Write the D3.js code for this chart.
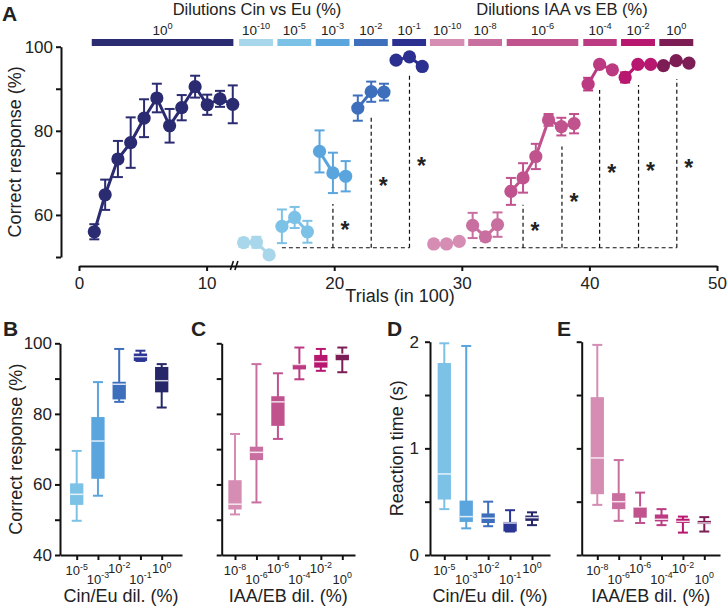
<!DOCTYPE html>
<html><head><meta charset="utf-8">
<script src="https://cdn.jsdelivr.net/npm/d3@7"></script>
<style>
body{margin:0;background:#fff}
svg{display:block}
text{font-family:"Liberation Sans",Arial,Helvetica,sans-serif;fill:#222}
</style>
</head><body>
<svg id="c" width="728" height="608"></svg>
<script>
// ---------------- DATA ----------------
// Panel A: learning curves (x = trials in 100, y = % correct, err = s.e.m.)
const seriesExp    = ["0","-10","-5","-3","-2","-1","-10","-8","-6","-4","-2","0"];
const seriesColors = ["#2a2b70","#a8d6ea","#7cc1e6","#5aa5de","#3d6fbd","#2b3090",
                      "#d68db3","#c96fa0","#c0538e","#bb3a82","#b8176f","#7c1d56"];
const seriesX = [
  [1.2,2.05,3.05,4.05,5.1,6.1,7.1,8.05,9.1,10.05,11.05,12.05],
  [12.9,13.9,14.9],
  [15.9,16.9,17.9],
  [18.85,19.9,20.9],
  [21.85,22.9,23.9],
  [24.85,25.9,26.9],
  [27.8,28.8,29.8],
  [30.85,31.85,32.8],
  [33.85,34.8,35.8,36.8,37.8,38.8],
  [39.9,40.8,41.8],
  [42.8,43.8,44.8],
  [45.8,46.8,47.8]
];
const seriesY = [
  [56,64.8,73.3,77.2,83,87.8,81.2,85.5,90.5,86.2,87.6,86.3],
  [53.4,53.5,50.5],
  [57.3,59.4,56.0],
  [75.1,70.0,69.2],
  [85.4,89.3,89.2],
  [96.8,97.6,95.3],
  [53.1,53.1,53.7],
  [57.5,54.8,57.7],
  [65.6,68.8,73.9,82.6,81.0,81.7],
  [91.1,95.8,94.5],
  [92.7,95.8,95.8],
  [95.5,96.7,96.1]
];
const seriesErr = [
  [1.8,3.6,4.3,6,4.5,3.4,4,3,2.6,2.4,1.9,4.5],
  [1,1.3,0.4],
  [4,2.5,2.6],
  [5,4.8,3.6],
  [3,2.4,2],
  [0.5,0.5,0.5],
  [0.8,0.5,0.5],
  [3,1,2.9],
  [3.2,3.5,3,1.4,2.1,2.3],
  [1.5,0.6,0.6],
  [1.2,0.5,0.5],
  [0.5,0.5,0.5]
];
// dilution bars on top (in trial units)
const barStart = [1.0,12.55,15.55,18.55,21.55,24.55,27.5,30.5,33.52,39.52,42.48,45.48];
const barEnd   = [12.1,15.2,18.2,21.2,24.2,27.2,30.2,33.15,39.13,42.14,45.14,48.14];
// significance brackets
const sigBase = 52.2;
const cinSigStart = 15.9, cinSigX = [19.9,22.9,25.9], cinSigTop = [62.6,83.8,93.3], cinStarY = [57.3,67.8,72.6];
const iaaSigStart = 30.85, iaaSigX = [34.8,37.85,40.8,43.85,46.85], iaaSigTop = [62.4,76.3,89.7,90.9,92.3], iaaStarY = [57.2,64.0,70.9,71.5,72.2];
const axisATicksY = [50,60,70,80,90,100], axisALabelsY = [60,80,100];
const axisATicksX = [0,10,20,30,40,50];

// Panels B-E: box plots [min, q1, median, q3, max]
const cinCats = ["-5","-3","-2","-1","0"];
const iaaCats = ["-8","-6","-6","-4","-2","0"];
const cinBoxColors = ["#7cc1e6","#5aa5de","#3d6fbd","#2b3593","#262768"];
const iaaBoxColors = ["#d68db3","#c96fa0","#c0538e","#bb3a82","#b8176f","#7c1d56"];
const boxB = [[49.7,54.2,57.2,60.3,69.5],[56.8,61.6,72.3,79.1,89.0],[83.4,84.1,88.4,89.1,98.4],[95.0,95.0,96.2,97.1,97.9],[81.8,86.1,89.4,93.3,94.1]];
const boxC = [[51.5,52.9,54.4,61.2,74.3],[54.9,66.9,69.1,70.7,94.1],[72.9,76.6,83.4,85.0,91.5],[89.8,92.6,94.0,94.1,98.8],[92.2,93.1,94.8,96.7,98.4],[91.8,95.2,96.9,97.0,98.8]];
const boxD = [[0.43,0.52,0.76,1.80,1.985],[0.25,0.31,0.36,0.51,1.96],[0.27,0.30,0.345,0.39,0.50],[0.22,0.22,0.30,0.31,0.42],[0.28,0.32,0.35,0.37,0.40]];
const boxE = [[0.47,0.57,0.91,1.48,1.97],[0.32,0.43,0.50,0.58,0.89],[0.30,0.35,0.45,0.45,0.585],[0.28,0.315,0.335,0.38,0.43],[0.21,0.30,0.315,0.34,0.36],[0.22,0.29,0.30,0.32,0.355]];
const pctTicks = [40,50,60,70,80,90,100], pctLabels = [40,60,80,100];
const rtTicks = [0,0.5,1,1.5,2], rtLabels = [0,1,2];

// ---------------- DRAW ----------------
const svg = d3.select("#c");
const FONT = '"Liberation Sans",Arial,sans-serif';

function expLabel(g, x, y, exp, size, anchor) {
  const t = g.append("text").attr("x", x).attr("y", y).attr("text-anchor", anchor || "middle")
    .attr("font-size", size);
  t.append("tspan").text("10");
  t.append("tspan").attr("dy", -size * 0.42).attr("font-size", size * 0.68).text(exp);
  return t;
}
function styleAxis(g) {
  g.selectAll("path.domain").attr("stroke", "#111").attr("stroke-width", 2);
  g.selectAll(".tick line").attr("stroke", "#111").attr("stroke-width", 2);
  g.selectAll(".tick text").attr("fill", "#222").attr("font-family", FONT);
}

// ===== Panel A =====
const xA = d3.scaleLinear([0, 50], [79, 717]);
const yA = d3.scaleLinear([50, 100], [257, 46.7]);
const gA = svg.append("g");

const ayA = gA.append("g").attr("transform", "translate(61,0)")
  .call(d3.axisLeft(yA).tickValues(axisATicksY).tickSize(5).tickSizeOuter(0).tickPadding(3)
    .tickFormat(d => axisALabelsY.includes(d) ? d : ""));
ayA.selectAll("text").attr("font-size", 17);
styleAxis(ayA);
const axA = gA.append("g").attr("transform", "translate(0,266)")
  .call(d3.axisBottom(xA).tickValues(axisATicksX).tickSize(5).tickSizeOuter(0).tickPadding(6));
axA.selectAll("text").attr("font-size", 17);
styleAxis(axA);
// axis break
const bx = xA(12.1);
[0, 4.5].forEach(o => gA.append("line").attr("x1", bx - 3 + o).attr("y1", 270).attr("x2", bx + o).attr("y2", 261)
  .attr("stroke", "#111").attr("stroke-width", 1.6));

gA.append("text").attr("x", 2).attr("y", 21).attr("font-size", 21).attr("font-weight", "bold").text("A");
gA.append("text").attr("transform", `translate(21,${(yA(50) + yA(100)) / 2}) rotate(-90)`)
  .attr("text-anchor", "middle").attr("font-size", 18).text("Correct response (%)");
gA.append("text").attr("x", 400).attr("y", 302).attr("text-anchor", "middle").attr("font-size", 18).text("Trials (in 100)");
gA.append("text").attr("x", 257).attr("y", 15).attr("text-anchor", "middle").attr("font-size", 16.5).text("Dilutions Cin vs Eu (%)");
gA.append("text").attr("x", 562).attr("y", 15).attr("text-anchor", "middle").attr("font-size", 16.5).text("Dilutions IAA vs EB (%)");

// top bars
barStart.forEach((s, i) => {
  gA.append("rect").attr("x", xA(s)).attr("y", 39).attr("width", xA(barEnd[i]) - xA(s)).attr("height", 7)
    .attr("fill", seriesColors[i]);
  expLabel(gA, (xA(s) + xA(barEnd[i])) / 2, 35, seriesExp[i], 13.5);
});

// significance brackets
function bracket(start, xs, tops, stars) {
  const dash = "4,3";
  gA.append("line").attr("x1", xA(start)).attr("x2", xA(xs[xs.length - 1])).attr("y1", yA(sigBase)).attr("y2", yA(sigBase))
    .attr("stroke", "#111").attr("stroke-width", 1.2).attr("stroke-dasharray", dash);
  xs.forEach((x, i) => {
    gA.append("line").attr("x1", xA(x)).attr("x2", xA(x)).attr("y1", yA(sigBase)).attr("y2", yA(tops[i]))
      .attr("stroke", "#111").attr("stroke-width", 1.2).attr("stroke-dasharray", dash);
    gA.append("text").attr("x", xA(x) + 12).attr("y", yA(stars[i]) + 12).attr("text-anchor", "middle")
      .attr("font-size", 23).attr("font-weight", "bold").attr("fill", "#111").text("*");
  });
}
bracket(cinSigStart, cinSigX, cinSigTop, cinStarY);
bracket(iaaSigStart, iaaSigX, iaaSigTop, iaaStarY);

// series
const line = d3.line().x(d => xA(d[0])).y(d => yA(d[1]));
seriesX.forEach((xs, i) => {
  const col = seriesColors[i];
  const pts = xs.map((x, j) => [x, seriesY[i][j], seriesErr[i][j]]);
  const g = gA.append("g");
  pts.forEach(p => {
    g.append("line").attr("x1", xA(p[0])).attr("x2", xA(p[0])).attr("y1", yA(p[1] - p[2])).attr("y2", yA(p[1] + p[2]))
      .attr("stroke", col).attr("stroke-width", 2);
    [p[1] - p[2], p[1] + p[2]].forEach(v => g.append("line").attr("x1", xA(p[0]) - 5).attr("x2", xA(p[0]) + 5)
      .attr("y1", yA(v)).attr("y2", yA(v)).attr("stroke", col).attr("stroke-width", 2));
  });
  g.append("path").datum(pts).attr("d", line).attr("fill", "none").attr("stroke", col).attr("stroke-width", 3);
  g.selectAll("circle").data(pts).join("circle").attr("cx", d => xA(d[0])).attr("cy", d => yA(d[1]))
    .attr("r", 6.6).attr("fill", col);
});

// ===== Panels B-E =====
function boxPanel(cfg) {
  const g = svg.append("g");
  const n = cfg.cats.length;
  const step = (cfg.last - cfg.first) / (n - 1);
  const x = d3.scaleLinear([(cfg.axisX - cfg.first) / step, (cfg.xEnd - cfg.first) / step], [cfg.axisX, cfg.xEnd]);
  const y = d3.scaleLinear(cfg.ydom, [555, cfg.yTop]);
  const ay = g.append("g").attr("transform", `translate(${cfg.axisX},0)`)
    .call(d3.axisLeft(y).tickValues(cfg.ticks).tickSize(5).tickSizeOuter(0).tickPadding(cfg.pad)
      .tickFormat(d => cfg.labels && cfg.labels.includes(d) ? d : ""));
  ay.selectAll("text").attr("font-size", 17);
  styleAxis(ay);
  const ax = g.append("g").attr("transform", "translate(0,555)")
    .call(d3.axisBottom(x).tickValues(d3.range(n)).tickSize(5).tickSizeOuter(0).tickFormat(""));
  styleAxis(ax);
  cfg.cats.forEach((c, i) => {
    expLabel(g, x(i), i % 2 === 0 ? (i === 0 ? 575 : 573) : 583.5, c, 13);
  });
  const bw = 13.3;
  cfg.data.forEach((b, i) => {
    const cx = x(i), col = cfg.colors[i];
    g.append("line").attr("x1", cx).attr("x2", cx).attr("y1", y(b[0])).attr("y2", y(b[4])).attr("stroke", col).attr("stroke-width", 2);
    [b[0], b[4]].forEach(v => g.append("line").attr("x1", cx - 5).attr("x2", cx + 5).attr("y1", y(v)).attr("y2", y(v))
      .attr("stroke", col).attr("stroke-width", 2));
    g.append("rect").attr("x", cx - bw / 2).attr("width", bw).attr("y", y(b[3])).attr("height", Math.max(1.5, y(b[1]) - y(b[3])))
      .attr("fill", col);
    g.append("line").attr("x1", cx - bw / 2).attr("x2", cx + bw / 2).attr("y1", y(b[2])).attr("y2", y(b[2]))
      .attr("stroke", "rgba(255,255,255,0.8)").attr("stroke-width", 1.5);
  });
  g.append("text").attr("x", cfg.letterX).attr("y", 336).attr("font-size", 21).attr("font-weight", "bold").text(cfg.letter);
  g.append("text").attr("x", (cfg.axisX + cfg.xEnd) / 2).attr("y", 602).attr("text-anchor", "middle").attr("font-size", 18).text(cfg.xlabel);
  if (cfg.ylabel) g.append("text").attr("transform", `translate(${cfg.ylabelX},${(555 + cfg.yTop) / 2}) rotate(-90)`)
    .attr("text-anchor", "middle").attr("font-size", 18).text(cfg.ylabel);
}
boxPanel({letter: "B", letterX: 3, axisX: 60, xEnd: 182, first: 76.7, last: 161.7, cats: cinCats, colors: cinBoxColors,
  data: boxB, ydom: [40, 100], yTop: 343.3, ticks: pctTicks, labels: pctLabels, pad: 3,
  xlabel: "Cin/Eu dil. (%)", ylabel: "Correct response (%)", ylabelX: 22});
boxPanel({letter: "C", letterX: 191, axisX: 221.7, xEnd: 355, first: 235, last: 342.3, cats: iaaCats, colors: iaaBoxColors,
  data: boxC, ydom: [40, 100], yTop: 343.3, ticks: pctTicks, labels: null, pad: 3,
  xlabel: "IAA/EB dil. (%)"});
boxPanel({letter: "D", letterX: 387, axisX: 430, xEnd: 550, first: 444.3, last: 532, cats: cinCats, colors: cinBoxColors,
  data: boxD, ydom: [0, 2], yTop: 341.7, ticks: rtTicks, labels: rtLabels, pad: 6,
  xlabel: "Cin/Eu dil. (%)", ylabel: "Reaction time (s)", ylabelX: 403});
boxPanel({letter: "E", letterX: 557, axisX: 581.7, xEnd: 720, first: 597.3, last: 704.3, cats: iaaCats, colors: iaaBoxColors,
  data: boxE, ydom: [0, 2], yTop: 341.7, ticks: rtTicks, labels: null, pad: 3,
  xlabel: "IAA/EB dil. (%)"});
</script>
</body></html>
